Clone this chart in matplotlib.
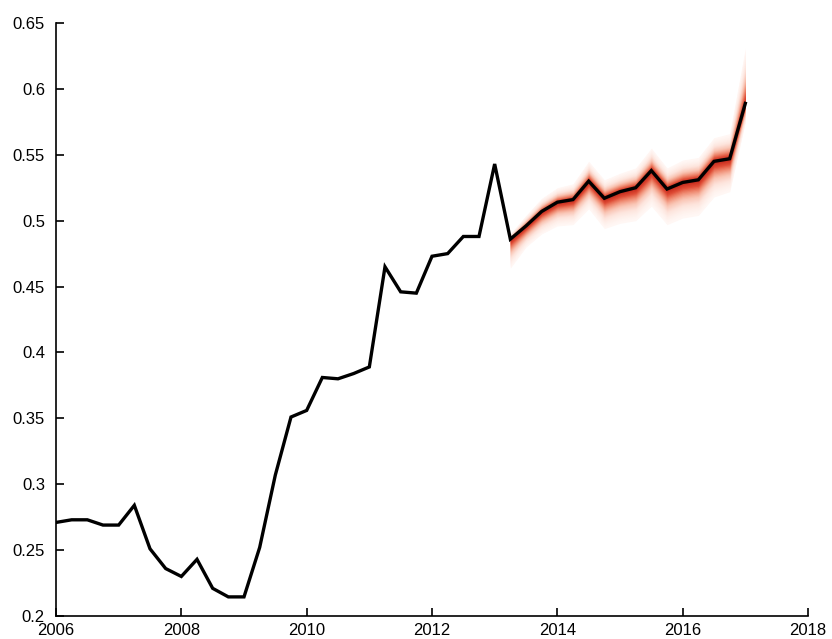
import numpy as np
import matplotlib
matplotlib.use("Agg")
import matplotlib.pyplot as plt
from matplotlib.colors import LinearSegmentedColormap

# Quarterly series, 2006Q1 .. 2017Q1
start_year = 2006.0
values = [
    0.271, 0.273, 0.273, 0.269, 0.269, 0.284, 0.251, 0.236,
    0.230, 0.243, 0.221, 0.2145, 0.2145, 0.252, 0.307, 0.351,
    0.356, 0.381, 0.380, 0.384, 0.389, 0.465, 0.446, 0.445,
    0.473, 0.475, 0.488, 0.488, 0.543, 0.486, 0.496, 0.507,
    0.514, 0.516, 0.530, 0.517, 0.522, 0.525, 0.538, 0.524,
    0.529, 0.531, 0.545, 0.547, 0.589,
]

# Forecast uncertainty (outer band) from 2013.25 onward
fan_start = 2013.25
fan_upper = [0.004, 0.008, 0.010, 0.011, 0.012, 0.015, 0.014, 0.014,
             0.015, 0.017, 0.016, 0.017, 0.017, 0.018, 0.019, 0.042]
fan_lower = [0.022, 0.016, 0.017, 0.018, 0.019, 0.021, 0.023, 0.024,
             0.025, 0.027, 0.027, 0.027, 0.027, 0.027, 0.025, 0.014]

x_ticks = [2006, 2008, 2010, 2012, 2014, 2016, 2018]
y_ticks = [0.2, 0.25, 0.3, 0.35, 0.4, 0.45, 0.5, 0.55, 0.6, 0.65]
y_ticklabels = ["0.2", "0.25", "0.3", "0.35", "0.4", "0.45", "0.5", "0.55", "0.6", "0.65"]

plt.rcParams["font.family"] = ["Liberation Sans", "DejaVu Sans"]

x = start_year + 0.25 * np.arange(len(values))
y = np.array(values)

fig = plt.figure(figsize=(8.32, 6.39), dpi=100)
ax = fig.add_axes([56 / 832, 23 / 639, 752 / 832, 593 / 639])

# fan chart: nested bands, pale outside, dark red near the centre
mask = x >= fan_start - 1e-9
xf = x[mask]
yf = y[mask]
up = np.array(fan_upper)
lo = np.array(fan_lower)
cmap = LinearSegmentedColormap.from_list(
    "fan", ["#fff7f4", "#fde4dc", "#f9c3b2", "#f08c72", "#de4a34", "#c42a1c"])
n_bands = 28
for i in range(n_bands):
    f = 1.0 - i / n_bands
    ax.fill_between(xf, yf - lo * f, yf + up * f,
                    color=cmap((i / (n_bands - 1)) ** 1.5), linewidth=0, zorder=2)

ax.plot(x, y, color="black", linewidth=2.4, zorder=3, solid_joinstyle="miter")

ax.set_xlim(2006, 2018)
ax.set_ylim(0.2, 0.65)
ax.set_xticks(x_ticks)
ax.set_xticklabels([str(t) for t in x_ticks])
ax.set_yticks(y_ticks)
ax.set_yticklabels(y_ticklabels)

for side in ("top", "right"):
    ax.spines[side].set_visible(False)
for side in ("left", "bottom"):
    ax.spines[side].set_linewidth(1.2)

ax.tick_params(axis="both", direction="in", length=6, width=1.2, labelsize=12, colors="black")
ax.tick_params(axis="x", pad=5)
ax.tick_params(axis="y", pad=8)

fig.savefig("out.png", dpi=100)
